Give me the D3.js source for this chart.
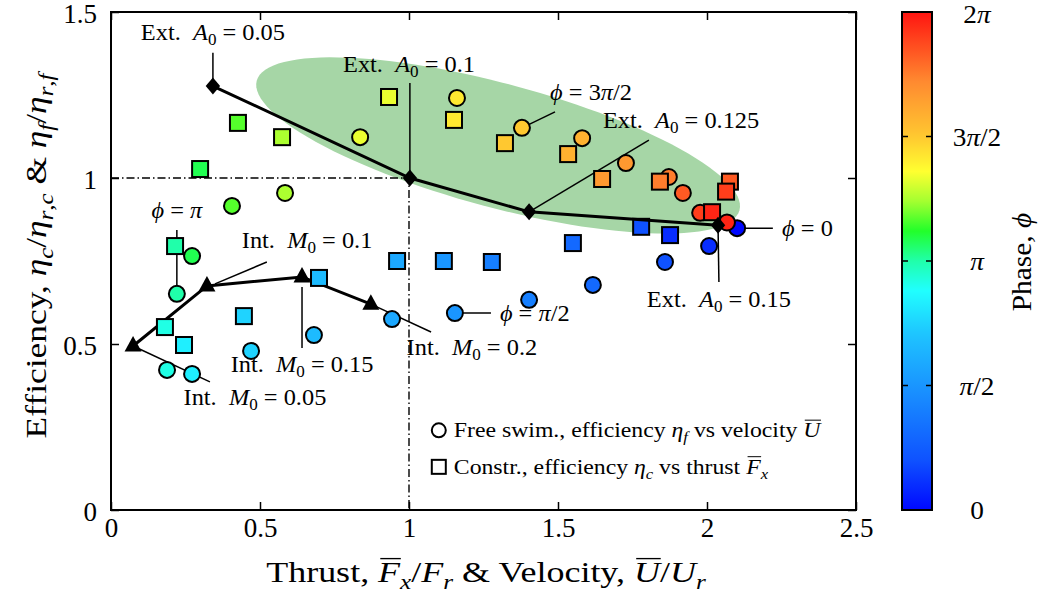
<!DOCTYPE html>
<html>
<head>
<meta charset="utf-8">
<script src="https://cdn.jsdelivr.net/npm/d3@7"></script>
<style>
  body { margin: 0; background: #fff; }
  text { font-family: "Liberation Serif", "Times New Roman", serif; fill: #000; }
</style>
</head>
<body>
<svg id="chart" width="1044" height="598"></svg>
<script>
// ---------- data ----------
const xTickValues = [0, 0.5, 1, 1.5, 2, 2.5];
const xTickLabels = ["0", "0.5", "1", "1.5", "2", "2.5"];
const yTickValues = [0, 0.5, 1, 1.5];
const yTickLabels = ["0", "0.5", "1", "1.5"];
const phaseTickValues = [0, 0.5, 1, 1.5, 2];          // multiples of π
const phaseTickLabels = ["0", "π/2", "π", "3π/2", "2π"];

// Free swimming: mean velocity U/Ur, efficiency ηf/ηr,f, phase (multiples of π)
const freeVelocity   = [2.101, 2.007, 1.859, 1.617, 1.403, 1.154, 0.943, 0.681, 0.470, 0.272, 0.188, 0.221,
                        0.272, 0.406, 0.584, 0.836, 1.161, 1.379, 1.581, 1.728, 1.872, 1.919, 1.977, 2.067];
const freeEfficiency = [0.849, 0.795, 0.747, 0.678, 0.633, 0.593, 0.575, 0.527, 0.479, 0.410, 0.422, 0.651,
                        0.765, 0.916, 0.955, 1.123, 1.241, 1.151, 1.120, 1.045, 1.003, 0.955, 0.895, 0.866];
const freePhase      = [0.0, 0.1, 0.2, 0.3, 0.4, 0.5, 0.583, 0.667, 0.75, 0.833, 0.917, 1.0,
                        1.083, 1.167, 1.25, 1.333, 1.417, 1.5, 1.583, 1.667, 1.75, 1.833, 1.9, 1.96];

// Constrained: mean thrust Fx/Fr, efficiency ηc/ηr,c, phase (multiples of π)
const constrThrust     = [1.876, 1.779, 1.550, 1.278, 1.117, 0.960, 0.698, 0.446, 0.245, 0.181, 0.215,
                          0.299, 0.426, 0.574, 0.933, 1.151, 1.322, 1.534, 1.648, 1.842, 2.077, 2.064, 2.017];
const constrEfficiency = [0.828, 0.853, 0.804, 0.747, 0.750, 0.750, 0.699, 0.584, 0.497, 0.551, 0.795,
                          1.027, 1.166, 1.123, 1.244, 1.175, 1.105, 1.072, 0.997, 0.989, 0.989, 0.959, 0.897];
const constrPhase      = [0.1, 0.2, 0.3, 0.4, 0.5, 0.583, 0.667, 0.75, 0.833, 0.917, 1.0,
                          1.083, 1.167, 1.25, 1.333, 1.417, 1.5, 1.583, 1.667, 1.75, 1.833, 1.9, 1.96];

// External actuation, amplitude A0
const extAmplitude = [0.05, 0.1, 0.125, 0.15];
const extX = [0.342, 1.003, 1.403, 2.037];
const extY = [1.277, 1.000, 0.898, 0.858];

// Internal actuation, moment M0
const intMoment = [0.05, 0.1, 0.15, 0.2];
const intX = [0.074, 0.322, 0.641, 0.872];
const intY = [0.494, 0.675, 0.702, 0.620];

// Shaded region of high efficiency: centre and half-axis vectors (data units)
const regionCentre = [1.299, 1.098];
const regionMajor  = [0.810, -0.195];
const regionMinor  = [0.054, 0.180];

// Phase colour map (stops in multiples of π)
const phaseColorStops = [0, 0.2, 0.5, 0.7, 0.88, 1.0, 1.12, 1.24, 1.36, 1.5, 1.72, 2.0];
const phaseColors = ["#0008ff", "#0f52ff", "#1a96ff", "#1ec2ff", "#20ffff", "#20ffaa",
                     "#22ff2a", "#a4ff30", "#ffff30", "#ffc830", "#ff8a30", "#ff1410"];

// ---------- layout ----------
const svg = d3.select("#chart");
const x = d3.scaleLinear().domain([0, 2.5]).range([111, 856]);
const y = d3.scaleLinear().domain([0, 1.5]).range([510, 12]);
const cbY = d3.scaleLinear().domain([0, 2]).range([510, 12]);
const color = d3.scaleLinear().domain(phaseColorStops).range(phaseColors).interpolate(d3.interpolateRgb);

// rich text: parts = [text, flags]; flags: i italic, s subscript, o overline.
// "stretch" widens the glyphs horizontally.
function rich(g, parts, size, opts = {}) {
  const gg = g.append("g")
    .attr("transform", `translate(${opts.x || 0},${opts.y || 0}) scale(${opts.stretch || 1},1)`);
  const t = gg.append("text")
    .attr("font-size", size)
    .attr("text-anchor", opts.anchor || "start")
    .attr("xml:space", "preserve");
  const shift = size * 0.22;
  let inSub = false, idx = 0;
  const bars = [];
  parts.forEach(([s, f = ""]) => {
    const ts = t.append("tspan").text(s);
    if (f.includes("i")) ts.attr("font-style", "italic");
    const sub = f.includes("s");
    if (sub) ts.attr("font-size", size * 0.7);
    if (sub && !inSub) ts.attr("dy", shift);
    if (!sub && inSub) ts.attr("dy", -shift);
    inSub = sub;
    if (f.includes("o")) bars.push([idx, idx + s.length]);
    idx += s.length;
  });
  const node = t.node();
  bars.forEach(([a, b]) => {
    const e0 = node.getExtentOfChar(a), e1 = node.getExtentOfChar(b - 1);
    const base = node.getStartPositionOfChar(a).y;
    gg.append("line")
      .attr("x1", e0.x + size * 0.06).attr("x2", e1.x + e1.width + size * 0.02)
      .attr("y1", base - size * 0.78).attr("y2", base - size * 0.78)
      .attr("stroke", "#000").attr("stroke-width", size * 0.045);
  });
  return t;
}

// ---------- shaded region ----------
const regionPts = d3.range(0, 361, 3).map(a => {
  const t = a * Math.PI / 180;
  return [regionCentre[0] + Math.cos(t) * regionMajor[0] + Math.sin(t) * regionMinor[0],
          regionCentre[1] + Math.cos(t) * regionMajor[1] + Math.sin(t) * regionMinor[1]];
});
svg.append("path")
  .attr("d", d3.line().x(d => x(d[0])).y(d => y(d[1])).curve(d3.curveLinearClosed)(regionPts))
  .attr("fill", "#a6d6a6");

// ---------- reference lines at unity ----------
svg.append("path")
  .attr("d", d3.line().x(d => x(d[0])).y(d => y(d[1]))([[0, 1], [1, 1], [1, 0]]))
  .attr("fill", "none").attr("stroke", "#000").attr("stroke-width", 1.4)
  .attr("stroke-dasharray", "8,3,1.5,3");

// ---------- annotations ----------
const sp = "\u2002";
const extLabel = v => [["Ext." + sp], ["A", "i"], ["0", "s"], [" = " + v]];
const intLabel = v => [["Int." + sp], ["M", "i"], ["0", "s"], [" = " + v]];
const phiLabel = v => [["ϕ", "i"], [" = "]].concat(v);
const notes = [
  { parts: extLabel("0.05"),  at: [0.342, 1.416], anchor: "middle", line: [[0.342, 1.277], [0.342, 1.377]] },
  { parts: extLabel("0.1"),   at: [1.000, 1.319], anchor: "middle", line: [[1.003, 1.000], [1.003, 1.286]] },
  { parts: phiLabel([["3"], ["π", "i"], ["/2"]]), at: [1.611, 1.235], anchor: "middle", line: [[1.379, 1.151], [1.490, 1.199]] },
  { parts: extLabel("0.125"), at: [1.913, 1.151], anchor: "middle", line: [[1.403, 0.898], [1.805, 1.114]] },
  { parts: extLabel("0.15"),  at: [2.040, 0.611], anchor: "middle", line: [[2.037, 0.858], [2.040, 0.687]] },
  { parts: phiLabel([["0"]]), at: [2.252, 0.825], anchor: "start", line: [[2.101, 0.849], [2.221, 0.849]] },
  { parts: phiLabel([["π", "i"], ["/2"]]), at: [1.305, 0.569], anchor: "start", line: [[1.154, 0.593], [1.275, 0.593]] },
  { parts: intLabel("0.2"),   at: [1.211, 0.467], anchor: "middle", line: [[0.872, 0.620], [1.074, 0.536]] },
  { parts: intLabel("0.15"),  at: [0.641, 0.416], anchor: "middle", line: [[0.641, 0.672], [0.641, 0.488]] },
  { parts: intLabel("0.1"),   at: [0.658, 0.789], anchor: "middle", line: [[0.349, 0.681], [0.523, 0.747]] },
  { parts: intLabel("0.05"),  at: [0.483, 0.316], anchor: "middle", line: [[0.074, 0.494], [0.332, 0.386]] },
  { parts: phiLabel([["π", "i"]]), at: [0.221, 0.880], anchor: "middle", line: [[0.221, 0.651], [0.221, 0.843]] }
];
const noteG = svg.append("g");
notes.forEach(n => {
  noteG.append("line")
    .attr("x1", x(n.line[0][0])).attr("y1", y(n.line[0][1]))
    .attr("x2", x(n.line[1][0])).attr("y2", y(n.line[1][1]))
    .attr("stroke", "#000").attr("stroke-width", 1.5);
  rich(noteG, n.parts, 23, { x: x(n.at[0]), y: y(n.at[1]), anchor: n.anchor, stretch: 1.06 });
});

// ---------- internal actuation curve ----------
const triangle = "M0,-10L8.5,5.5L-8.5,5.5Z";
const diamond = "M0,-8.5L7.2,0L0,8.5L-7.2,0Z";
const intPts = intX.map((v, i) => [v, intY[i], intMoment[i]]);
svg.append("path")
  .attr("d", d3.line().x(d => x(d[0])).y(d => y(d[1]))(intPts))
  .attr("fill", "none").attr("stroke", "#000").attr("stroke-width", 3);
svg.selectAll(".tri").data(intPts).join("path")
  .attr("transform", d => `translate(${x(d[0])},${y(d[1])})`)
  .attr("d", triangle).attr("fill", "#000");

// ---------- measurements ----------
const marks = freeVelocity.map((v, i) => ({ x: v, y: freeEfficiency[i], phase: freePhase[i], shape: "circle" }))
  .concat(constrThrust.map((v, i) => ({ x: v, y: constrEfficiency[i], phase: constrPhase[i], shape: "square" })))
  .sort((a, b) => a.phase - b.phase || (a.shape === "circle" ? -1 : 1));
const markG = svg.append("g");
marks.forEach(m => {
  if (m.shape === "circle") {
    markG.append("circle").attr("cx", x(m.x)).attr("cy", y(m.y)).attr("r", 8)
      .attr("fill", color(m.phase)).attr("stroke", "#000").attr("stroke-width", 2);
  } else {
    markG.append("rect").attr("x", x(m.x) - 8).attr("y", y(m.y) - 8).attr("width", 16).attr("height", 16)
      .attr("fill", color(m.phase)).attr("stroke", "#000").attr("stroke-width", 2);
  }
});

// ---------- external actuation curve ----------
const extPts = extX.map((v, i) => [v, extY[i], extAmplitude[i]]);
svg.append("path")
  .attr("d", d3.line().x(d => x(d[0])).y(d => y(d[1]))(extPts))
  .attr("fill", "none").attr("stroke", "#000").attr("stroke-width", 3);
svg.selectAll(".dia").data(extPts).join("path")
  .attr("transform", d => `translate(${x(d[0])},${y(d[1])})`)
  .attr("d", diamond).attr("fill", "#000");

// ---------- axes ----------
function styleAxis(g) {
  g.select(".domain").remove();
  g.selectAll(".tick line").attr("stroke", "#000").attr("stroke-width", 1.5);
  g.selectAll(".tick text").attr("font-family", "Liberation Serif, serif").attr("font-size", 27).attr("fill", "#000");
}
svg.append("g").attr("transform", "translate(0,510)")
  .call(d3.axisBottom(x).tickValues(xTickValues).tickFormat((d, i) => xTickLabels[i]).tickSize(-8).tickPadding(8))
  .call(styleAxis);
svg.append("g").attr("transform", "translate(0,12)")
  .call(d3.axisTop(x).tickValues(xTickValues).tickFormat("").tickSize(-8)).call(styleAxis);
svg.append("g").attr("transform", "translate(111,0)")
  .call(d3.axisLeft(y).tickValues(yTickValues).tickFormat((d, i) => yTickLabels[i]).tickSize(-8).tickPadding(14))
  .call(styleAxis)
  .call(g => g.selectAll(".tick text").attr("dy", "0.38em"));
svg.append("g").attr("transform", "translate(856,0)")
  .call(d3.axisRight(y).tickValues(yTickValues).tickFormat("").tickSize(-8)).call(styleAxis);
svg.append("rect").attr("x", 111).attr("y", 12).attr("width", 745).attr("height", 498)
  .attr("fill", "none").attr("stroke", "#000").attr("stroke-width", 2);

// axis titles
const xt = svg.append("g");
rich(xt, [["Thrust, "], ["F", "io"], ["x", "is"], ["/"], ["F", "i"], ["r", "is"], [" & Velocity, "],
          ["U", "io"], ["/"], ["U", "i"], ["r", "is"]], 30, { x: 486, y: 582, anchor: "middle", stretch: 1.2 });
const yt = svg.append("g").attr("transform", "translate(46,256) rotate(-90)");
rich(yt, [["Efficiency, "], ["η", "i"], ["c", "is"], ["/"], ["η", "i"], ["r", "is"], [",", "s"], ["c", "is"],
          [" & "], ["η", "i"], ["f", "is"], ["/"], ["η", "i"], ["r", "is"], [",", "s"], ["f", "is"]],
     30, { x: 0, y: 0, anchor: "middle", stretch: 1.18 });

// ---------- legend ----------
const lg = svg.append("g");
lg.append("circle").attr("cx", x(1.1)).attr("cy", y(0.24)).attr("r", 7)
  .attr("fill", "none").attr("stroke", "#000").attr("stroke-width", 2);
rich(lg, [["Free swim., efficiency "], ["η", "i"], ["f", "is"], [" vs velocity "], ["U", "io"]], 22,
     { x: x(1.1) + 15, y: y(0.24) + 7, stretch: 1.08 });
lg.append("rect").attr("x", x(1.1) - 7).attr("y", y(0.13) - 7).attr("width", 14).attr("height", 14)
  .attr("fill", "none").attr("stroke", "#000").attr("stroke-width", 2);
rich(lg, [["Constr., efficiency "], ["η", "i"], ["c", "is"], [" vs thrust "], ["F", "io"], ["x", "is"]], 22,
     { x: x(1.1) + 15, y: y(0.13) + 7, stretch: 1.08 });

// ---------- colour bar ----------
const defs = svg.append("defs");
const grad = defs.append("linearGradient").attr("id", "phaseGrad")
  .attr("x1", 0).attr("y1", 1).attr("x2", 0).attr("y2", 0);
d3.range(0, 2.0001, 0.04).forEach(p => {
  grad.append("stop").attr("offset", p / 2).attr("stop-color", color(p));
});
const cbX0 = 902, cbW = 30;
svg.append("rect").attr("x", cbX0).attr("y", cbY(2)).attr("width", cbW).attr("height", cbY(0) - cbY(2))
  .attr("fill", "url(#phaseGrad)");
const cbTicks = svg.append("g");
phaseTickValues.slice(1, -1).forEach(p => {
  cbTicks.append("line").attr("x1", cbX0).attr("x2", cbX0 + 6).attr("y1", cbY(p)).attr("y2", cbY(p))
    .attr("stroke", "#000").attr("stroke-width", 1.5);
  cbTicks.append("line").attr("x1", cbX0 + cbW - 6).attr("x2", cbX0 + cbW).attr("y1", cbY(p)).attr("y2", cbY(p))
    .attr("stroke", "#000").attr("stroke-width", 1.5);
});
svg.append("rect").attr("x", cbX0).attr("y", cbY(2)).attr("width", cbW).attr("height", cbY(0) - cbY(2))
  .attr("fill", "none").attr("stroke", "#000").attr("stroke-width", 2);
phaseTickLabels.forEach((lab, i) => {
  const parts = lab.split(/(π)/).filter(s => s).map(s => s === "π" ? [s, "i"] : [s]);
  rich(cbTicks, parts, 26, { x: 977, y: Math.max(cbY(phaseTickValues[i]) + 9, 23), anchor: "middle", stretch: 1.05 });
});
const cbt = svg.append("g").attr("transform", "translate(1031,262) rotate(-90)");
rich(cbt, [["Phase, "], ["ϕ", "i"]], 28, { x: 0, y: 0, anchor: "middle", stretch: 1.05 });
</script>
</body>
</html>
